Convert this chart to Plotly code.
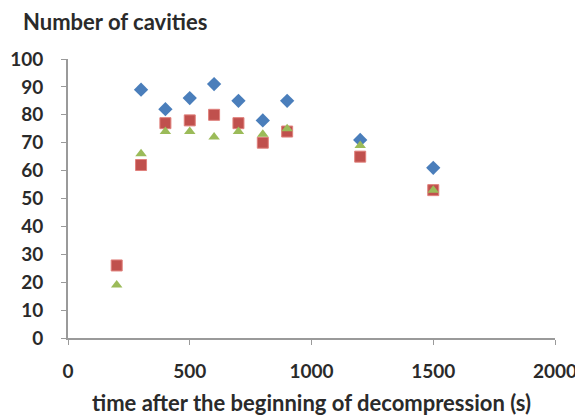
import plotly.graph_objects as go

x_blue = [300, 400, 500, 600, 700, 800, 900, 1200, 1500]
y_blue = [89, 82, 86, 91, 85, 78, 85, 71, 61]
x_red = [200, 300, 400, 500, 600, 700, 800, 900, 1200, 1500]
y_red = [26, 62, 77, 78, 80, 77, 70, 74, 65, 53]
x_green = [200, 300, 400, 500, 600, 700, 800, 900, 1200, 1500]
y_green = [19, 66, 74, 74, 72, 74, 73, 75, 69, 53]

x_ticks = [0, 500, 1000, 1500, 2000]
y_ticks = [0, 10, 20, 30, 40, 50, 60, 70, 80, 90, 100]

FONT = "Lato"
TXT = "#2a2a2a"
TICKF = dict(family=FONT, size=19, color=TXT, weight=700)
TITLEF = dict(family=FONT, size=22, color=TXT, weight=700)

fig = go.Figure()
fig.add_trace(go.Scatter(x=x_blue, y=y_blue, mode="markers",
                         marker=dict(symbol="diamond", size=11, color="#4A7EBB",
                                     line=dict(width=0)), showlegend=False))
fig.add_trace(go.Scatter(x=x_red, y=y_red, mode="markers",
                         marker=dict(symbol="square", size=11, color="#C0504D",
                                     line=dict(width=1, color="#E0807C")), showlegend=False))
fig.add_trace(go.Scatter(x=x_green, y=y_green, mode="markers",
                         marker=dict(symbol="triangle-up", size=10, color="#9BBB59",
                                     line=dict(width=0)), showlegend=False))

# page body has an 8px margin, so the figure is offset by 8px
fig.update_layout(
    width=575, height=412,
    margin=dict(l=60, r=28, t=51, b=82),
    paper_bgcolor="white", plot_bgcolor="white",
    font=TICKF,
    xaxis=dict(range=[0, 2000], tickvals=x_ticks, showgrid=False, zeroline=False,
               showline=True, linecolor="#9a9a9a", linewidth=2,
               ticks="outside", ticklen=5, tickcolor="#9a9a9a", tickwidth=1,
               ticklabelstandoff=10, tickfont=TICKF, automargin=False,
               title=dict(text="time after the beginning of decompression (s)",
                          font=TITLEF, standoff=15)),
    yaxis=dict(range=[0, 100], tickvals=y_ticks, showgrid=False, zeroline=False,
               showline=True, linecolor="#9a9a9a", linewidth=2,
               ticks="outside", ticklen=5, tickcolor="#9a9a9a", tickwidth=1,
               ticklabelstandoff=14, tickfont=TICKF, automargin=False),
    annotations=[dict(text="Number of cavities", xref="paper", yref="paper",
                      x=-47/487, y=1 + 38/279, xanchor="left", yanchor="middle",
                      showarrow=False, font=TITLEF)],
)

fig.write_html("out.html")
